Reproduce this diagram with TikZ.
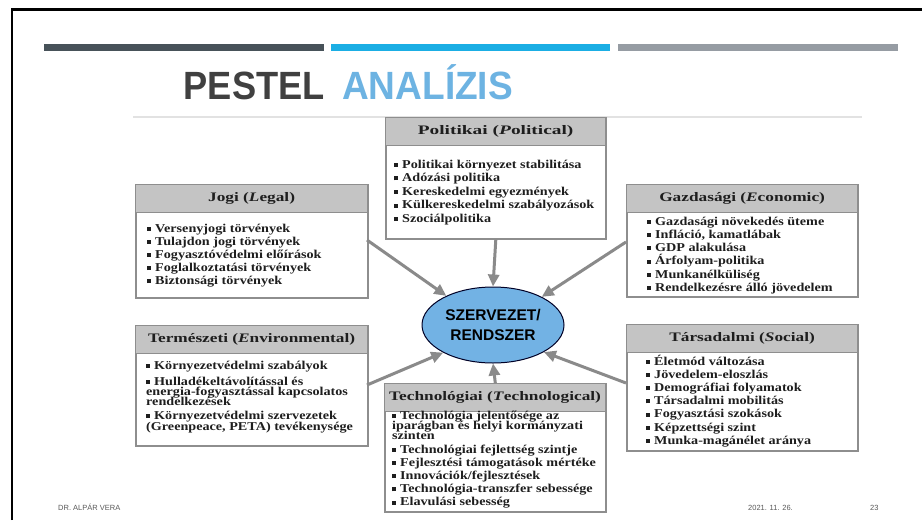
\documentclass[tikz,border=0pt]{standalone}
\usepackage{fontspec}
\setmainfont{Liberation Serif}
\newfontfamily\bodyf[FakeStretch=1.18]{Liberation Serif}
\newfontfamily\headf[FakeStretch=1.33]{Liberation Serif}
\newfontfamily\sansf{Liberation Sans}
\usetikzlibrary{arrows.meta,shapes.geometric}
\definecolor{bardark}{HTML}{475259}
\definecolor{barblue}{HTML}{1BAEE4}
\definecolor{bargray}{HTML}{969CA3}
\definecolor{titledark}{HTML}{404040}
\definecolor{titleblue}{HTML}{6DB3E2}
\definecolor{headfill}{HTML}{C4C4C4}
\definecolor{boxline}{HTML}{8E8E8E}
\definecolor{arrowgray}{HTML}{8A8A8A}
\definecolor{ellblue}{HTML}{72B2E4}
\definecolor{txt}{HTML}{1E1E1E}
\definecolor{foottxt}{HTML}{595959}
\definecolor{faint}{HTML}{E2E2E2}
\newcommand{\mybul}{\rule[1.3pt]{4pt}{4pt}\hspace{4pt}}
\newcommand{\lstfont}[1][13.4]{\bodyf\bfseries\fontsize{12}{#1}\selectfont\lineskiplimit=-100pt\lineskip=0pt}
\tikzset{
  boxbody/.style={draw=boxline, line width=1.6pt, fill=white, anchor=north west, inner sep=0, rectangle},
  boxhead/.style={draw=boxline, line width=1.2pt, fill=headfill, anchor=north west, inner sep=0, rectangle,
    minimum height=27.5pt, font=\headf\bfseries\fontsize{13}{15}\selectfont, text=txt},
  lst/.style={anchor=base west, inner sep=0, text=txt},
  arr/.style={draw=arrowgray, line width=3pt, -{Triangle[length=12pt,width=11pt]}},
  foot/.style={inner sep=0, font=\sansf\fontsize{7.5}{9}\selectfont, text=foottxt},
}
\begin{document}
\begin{tikzpicture}[x=1pt,y=-1pt]
\useasboundingbox (0,0) rectangle (922,520);
\fill[white] (0,0) rectangle (922,520);
% slide frame
\draw[black, line width=2.6pt] (11.8,520) -- (11.8,9.5) -- (922,9.5);
% top bars
\fill[bardark] (44,43.5) rectangle (324,50.5);
\fill[barblue] (331,43.5) rectangle (610,50.5);
\fill[bargray] (618,43.5) rectangle (898,50.5);
% title
\node[anchor=base west, inner sep=0, text=titledark, font=\sansf\bfseries\fontsize{39.4}{40}\selectfont] (t1) at (183.5,99.3) {\scalebox{0.92}[1]{PESTEL}};
\node[anchor=base west, inner sep=0, text=titleblue, font=\sansf\bfseries\fontsize{39.4}{40}\selectfont] (t2) at (342,99.3) {\scalebox{0.94}[1]{ANALÍZIS}};
% faint image top edge
\draw[faint, line width=1.5pt] (133,117) -- (862,117);

% ---- boxes ----
% Politikai
\node[boxbody, minimum width=220pt, minimum height=121pt] (pol) at (385,117) {};
\node[boxhead, minimum width=220pt] (polh) at (pol.north west) {\scalebox{1.12}[1]{Politikai (\textit{P}olitical)}};
\node[lst] (poll) at (394,168) {\parbox[t]{205pt}{\lstfont[13.6]
\mybul Politikai környezet stabilitása\\
\mybul Adózási politika\\
\mybul Kereskedelmi egyezmények\\
\mybul Külkereskedelmi szabályozások\\
\mybul Szociálpolitika}};

% Jogi
\node[boxbody, minimum width=232pt, minimum height=113pt] (jogi) at (135,184) {};
\node[boxhead, minimum width=232pt] (jogih) at (jogi.north west) {Jogi (\textit{L}egal)};
\node[lst] (jogil) at (147,232) {\parbox[t]{215pt}{\lstfont[13.1]
\mybul Versenyjogi törvények\\
\mybul Tulajdon jogi törvények\\
\mybul Fogyasztóvédelmi előírások\\
\mybul Foglalkoztatási törvények\\
\mybul Biztonsági törvények}};

% Gazdasági
\node[boxbody, minimum width=231pt, minimum height=112pt] (gazd) at (626,184) {};
\node[boxhead, minimum width=231pt] (gazdh) at (gazd.north west) {Gazdasági (\textit{E}conomic)};
\node[lst] (gazdl) at (647,225) {\parbox[t]{205pt}{\lstfont[13.3]
\mybul Gazdasági növekedés üteme\\
\mybul Infláció, kamatlábak\\
\mybul GDP alakulása\\
\mybul Árfolyam-politika\\
\mybul Munkanélküliség\\
\mybul Rendelkezésre álló jövedelem}};

% Természeti
\node[boxbody, minimum width=232pt, minimum height=120pt] (term) at (135,325) {};
\node[boxhead, minimum width=232pt] (termh) at (term.north west) {Természeti (\textit{E}nvironmental)};
\node[lst] (terml) at (146,369) {\parbox[t]{220pt}{\lstfont[13.4]
\mybul Környezetvédelmi szabályok\\[2.6pt]
\mybul Hulladékeltávolítással és\\[-3.0pt]
energia-fogyasztással kapcsolatos\\[-3.4pt]
rendelkezések\\[0.6pt]
\mybul Környezetvédelmi szervezetek\\[-2.2pt]
(Greenpeace, PETA) tevékenysége}};

% Technológiai
\node[boxbody, minimum width=221pt, minimum height=128pt] (tech) at (384,383) {};
\node[boxhead, minimum width=221pt] (techh) at (tech.north west) {Technológiai (\textit{T}echnological)};
\node[lst] (techl) at (392,419.5) {\parbox[t]{212pt}{\lstfont[13.2]
\mybul Technológia jelentősége az\\[-3.2pt]
iparágban és helyi kormányzati\\[-3.2pt]
szinten\\[0.3pt]
\mybul Technológiai fejlettség szintje\\
\mybul Fejlesztési támogatások mértéke\\
\mybul Innovációk/fejlesztések\\
\mybul Technológia-transzfer sebessége\\
\mybul Elavulási sebesség}};

% Társadalmi
\node[boxbody, minimum width=231pt, minimum height=126pt] (tars) at (626,324) {};
\node[boxhead, minimum width=231pt] (tarsh) at (tars.north west) {Társadalmi (\textit{S}ocial)};
\node[lst] (tarsl) at (646,365) {\parbox[t]{205pt}{\lstfont[13.2]
\mybul Életmód változása\\
\mybul Jövedelem-eloszlás\\
\mybul Demográfiai folyamatok\\
\mybul Társadalmi mobilitás\\
\mybul Fogyasztási szokások\\
\mybul Képzettségi szint\\
\mybul Munka-magánélet aránya}};

% ---- center ellipse ----
\node[ellipse, draw=black!85!blue, line width=1pt, fill=ellblue, minimum width=142pt, minimum height=76pt, inner sep=0,
  align=center, font=\sansf\bfseries\fontsize{15.5}{20}\selectfont] (ell) at (493,325) {SZERVEZET/\\RENDSZER};

% ---- arrows ----
\coordinate (jA) at (367,240);
\coordinate (gA) at (626,242);
\coordinate (eA) at (367,385);
\coordinate (sA) at (626,383);
\draw[arr] (pol.south) -- (ell.north);
\draw[arr] (tech.north) -- (ell.south);
\draw[arr] (jA) -- (ell.148);
\draw[arr] (gA) -- (ell.30);
\draw[arr] (eA) -- (ell.209);
\draw[arr] (sA) -- (ell.332);

% ---- footer ----
\node[foot, anchor=base west] (auth) at (58,510) {DR. ALPÁR VERA};
\node[foot, anchor=base east] (date) at (793,510) {2021. 11. 26.};
\node[foot, anchor=base west] (page) at (870,510) {23};
\end{tikzpicture}
\end{document}
